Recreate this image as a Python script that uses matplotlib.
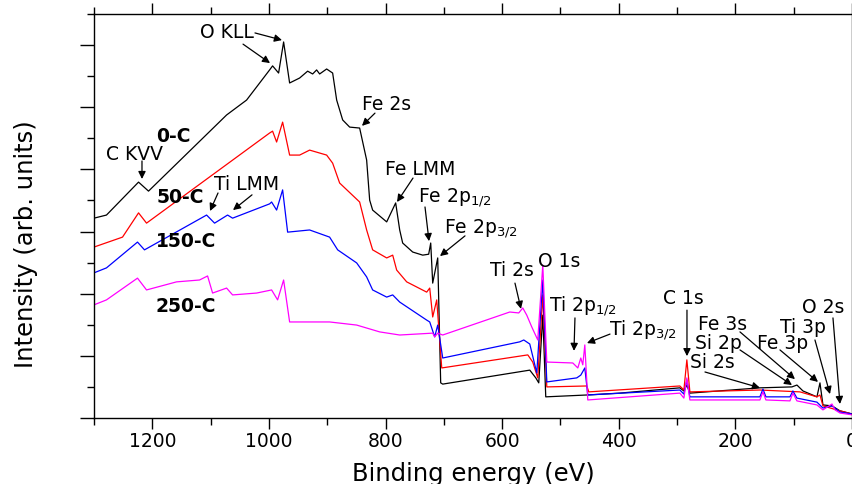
import numpy as np
import matplotlib.pyplot as plt
from matplotlib.ticker import MultipleLocator

# binding energy (eV) / intensity (arb. units)
be_0c = [1300, 1278.6, 1223.6, 1206.5, 1072.6, 1038.3, 998.8, 993.7, 983.4, 974.8,
         964.5, 947.3, 933.6, 925.0, 918.2, 913.0, 901.0, 890.7, 883.8, 873.5,
         861.5, 844.4, 832.4, 827.2, 822.1, 798.0, 782.6, 775.7, 770.6, 753.4,
         736.2, 726.0, 722.5, 719.1, 710.5, 705.4, 701.9, 552.6, 542.3, 537.2,
         530.3, 525.2, 454.8, 398.2, 295.2, 288.3, 283.2, 278.0, 157.9, 103.0,
         94.4, 84.1, 60.1, 54.9, 49.8, 34.3, 20.6, 0]
int_0c = [6.43, 6.53, 7.59, 7.30, 9.75, 10.23, 11.20, 11.33, 11.10, 12.10,
          10.78, 10.94, 11.16, 11.07, 11.20, 11.07, 11.23, 11.10, 10.23, 9.59,
          9.36, 9.33, 8.30, 7.01, 6.69, 6.31, 6.92, 6.05, 5.63, 5.34,
          5.24, 5.27, 5.63, 4.34, 5.15, 1.13, 1.09, 1.54, 1.29, 1.13,
          3.31, 0.68, 0.74, 0.80, 0.97, 0.87, 1.06, 0.80, 0.97, 1.00,
          1.06, 0.87, 0.68, 1.13, 0.42, 0.39, 0.23, 0.13]

be_50c = [1300, 1251.1, 1223.6, 1209.9, 998.8, 993.7, 986.8, 976.5, 964.5, 947.3,
          930.2, 901.0, 890.7, 878.7, 844.4, 832.4, 822.1, 798.0, 787.7, 780.9,
          763.7, 729.4, 724.2, 719.1, 712.2, 703.6, 556.0, 547.5, 538.9, 530.3,
          523.4, 454.8, 451.4, 295.2, 288.3, 283.2, 278.0, 157.9, 89.2, 60.1,
          54.9, 49.8, 20.6, 0]
int_50c = [5.50, 5.82, 6.60, 6.27, 9.17, 9.23, 8.88, 9.52, 8.46, 8.46,
           8.62, 8.46, 8.20, 7.56, 6.95, 6.05, 5.41, 5.15, 5.24, 4.76,
           4.38, 4.05, 4.18, 3.25, 3.80, 1.61, 2.03, 1.80, 1.29, 3.96,
           1.00, 1.03, 0.84, 1.03, 0.90, 1.87, 0.84, 0.90, 0.84, 0.68,
           0.74, 0.39, 0.23, 0.13]

be_150c = [1300, 1278.6, 1225.4, 1213.4, 1106.9, 1093.2, 1070.9, 1062.3, 998.8, 995.4,
           986.8, 976.5, 967.9, 930.2, 895.9, 882.1, 849.5, 832.4, 822.1, 798.0,
           787.7, 775.7, 729.4, 724.2, 715.7, 710.5, 701.9, 569.8, 562.9, 552.6,
           540.6, 530.3, 523.4, 472.0, 465.1, 458.2, 453.1, 295.2, 288.3, 283.2,
           278.0, 157.9, 152.7, 147.6, 106.4, 101.3, 94.4, 60.1, 49.8, 34.3,
           20.6, 0]
int_150c = [4.67, 4.83, 5.66, 5.41, 6.53, 6.27, 6.53, 6.43, 6.89, 6.95,
            6.69, 7.34, 5.98, 6.05, 5.82, 5.41, 4.99, 4.54, 4.12, 3.89,
            3.96, 3.73, 3.15, 3.09, 2.61, 2.99, 1.93, 2.45, 2.51, 2.38,
            1.45, 4.44, 1.16, 1.29, 1.38, 1.61, 0.74, 0.90, 0.77, 1.22,
            0.68, 0.68, 0.93, 0.68, 0.68, 0.87, 0.64, 0.51, 0.32, 0.39,
            0.19, 0.13]

be_250c = [1300, 1278.6, 1225.4, 1209.9, 1158.4, 1119.0, 1105.2, 1096.6, 1072.6, 1062.3,
           1021.1, 995.4, 985.1, 974.8, 964.5, 895.9, 849.5, 810.0, 775.7, 719.1,
           715.7, 710.5, 701.9, 586.9, 571.5, 564.6, 557.8, 549.2, 538.9, 530.3,
           523.4, 478.8, 470.2, 465.1, 461.7, 458.2, 453.1, 295.2, 288.3, 283.2,
           278.0, 157.9, 152.7, 147.6, 106.4, 101.3, 94.4, 60.1, 49.8, 34.3,
           29.2, 20.6, 0]
int_250c = [3.64, 3.80, 4.50, 4.12, 4.38, 4.44, 4.57, 4.02, 4.18, 3.96,
            4.02, 4.12, 3.80, 4.44, 3.09, 3.09, 2.99, 2.77, 2.67, 2.73,
            2.61, 2.73, 2.67, 3.41, 3.38, 3.54, 3.31, 2.93, 2.51, 4.92,
            1.80, 1.77, 1.61, 1.93, 1.71, 2.35, 0.58, 0.80, 0.64, 1.29,
            0.58, 0.58, 0.84, 0.58, 0.55, 0.80, 0.55, 0.42, 0.26, 0.45,
            0.26, 0.16, 0.10]

samples = ['0-C', '50-C', '150-C', '250-C']
colors = ['black', 'red', 'blue', 'magenta']

# peak labels: text, text centre (eV, int), list of (tail, tip) arrows
peaks = [
    ('O KLL', (1072, 12.39), [((1023.9, 12.39), (977.6, 12.16)), ((1044.4, 12.03), (998.1, 11.42))]),
    ('Fe 2s', (797.5, 10.10), [((818.1, 9.81), (840.4, 9.40))]),
    ('C KVV', (1229.7, 8.49), [((1217.7, 8.27), (1217.7, 7.69))]),
    ('Ti LMM', (1037.6, 7.50), [((1087.3, 7.24), (1101.0, 6.66)), ((1029.0, 7.18), (1061.6, 6.69))]),
    ('Fe LMM', (740.9, 7.98), [((752.9, 7.72), (780.3, 6.95))]),
    ('Fe 2p$_{1/2}$', (680.9, 7.08), [((732.3, 6.79), (725.4, 5.69))]),
    ('Fe 2p$_{3/2}$', (636.3, 6.11), [((663.7, 5.86), (706.6, 5.21))]),
    ('Ti 2s', (583.1, 4.73), [((578.0, 4.34), (567.7, 3.51))]),
    ('O 1s', (502.5, 5.05), []),
    ('Ti 2p$_{1/2}$', (461.3, 3.60), [((475.1, 3.22), (476.8, 2.16))]),
    ('Ti 2p$_{3/2}$', (358.4, 2.83), [((415.0, 2.70), (454.5, 2.41))]),
    ('C 1s', (289.8, 3.86), [((283.0, 3.47), (283.0, 1.99))]),
    ('Fe 3s', (221.2, 3.02), [((192.1, 2.77), (97.8, 1.25))]),
    ('Si 2p', (229.8, 2.41), [((192.1, 2.19), (102.9, 1.06))]),
    ('Fe 3p', (118.3, 2.41), [((123.5, 2.19), (58.3, 1.16))]),
    ('Si 2s', (240.1, 1.77), [((252.1, 1.48), (157.8, 0.97))]),
    ('Ti 3p', (84.0, 2.90), [((63.5, 2.51), (37.7, 0.77))]),
    ('O 2s', (49.7, 3.57), [((32.6, 3.22), (20.6, 0.45))]),
]
sample_pos = [(1164.5, 9.07), (1152.5, 7.11), (1142.2, 5.69), (1142.2, 3.60)]

fig = plt.figure(figsize=(8.53, 4.84), dpi=100)
ax = fig.add_axes([0.1102, 0.1364, 0.8886, 0.8347])

curves = [(be_0c, int_0c), (be_50c, int_50c), (be_150c, int_150c), (be_250c, int_250c)]
for (be, inten), c in zip(curves, colors):
    ax.plot(be, inten, color=c, lw=0.9)

for name, (x, y) in zip(samples, sample_pos):
    ax.text(x, y, name, fontsize=13.5, fontweight='bold', ha='center', va='center')

for lab, (x, y), arrows in peaks:
    ax.text(x, y, lab, fontsize=13.5, ha='center', va='center')
    for tail, tip in arrows:
        ax.annotate('', xy=tip, xytext=tail,
                    arrowprops=dict(arrowstyle='-|>', color='k', lw=0.9,
                                    mutation_scale=11, shrinkA=0, shrinkB=0))

ax.set_xlim(1300, 0)
ax.set_ylim(0, 13)
ax.xaxis.set_major_locator(MultipleLocator(200))
ax.xaxis.set_minor_locator(MultipleLocator(100))
ax.yaxis.set_major_locator(MultipleLocator(2))
ax.yaxis.set_minor_locator(MultipleLocator(1))
ax.set_yticklabels([])
ax.tick_params(axis='x', which='both', direction='out', top=True, labelsize=13.5, pad=2)
ax.tick_params(axis='y', which='both', direction='out', right=False)
ax.tick_params(which='major', length=8, width=1.0)
ax.tick_params(which='minor', length=5, width=1.0)
ax.tick_params(axis='y', which='major', length=10)

ax.set_xlabel('Binding energy (eV)', fontsize=17.5)
ax.set_ylabel('Intensity (arb. units)', fontsize=17.5)
ax.xaxis.set_label_coords(0.5, -0.108)
ax.yaxis.set_label_coords(-0.074, 0.43)
for s in ax.spines.values():
    s.set_linewidth(1.0)

fig.savefig('out.png', dpi=100)
